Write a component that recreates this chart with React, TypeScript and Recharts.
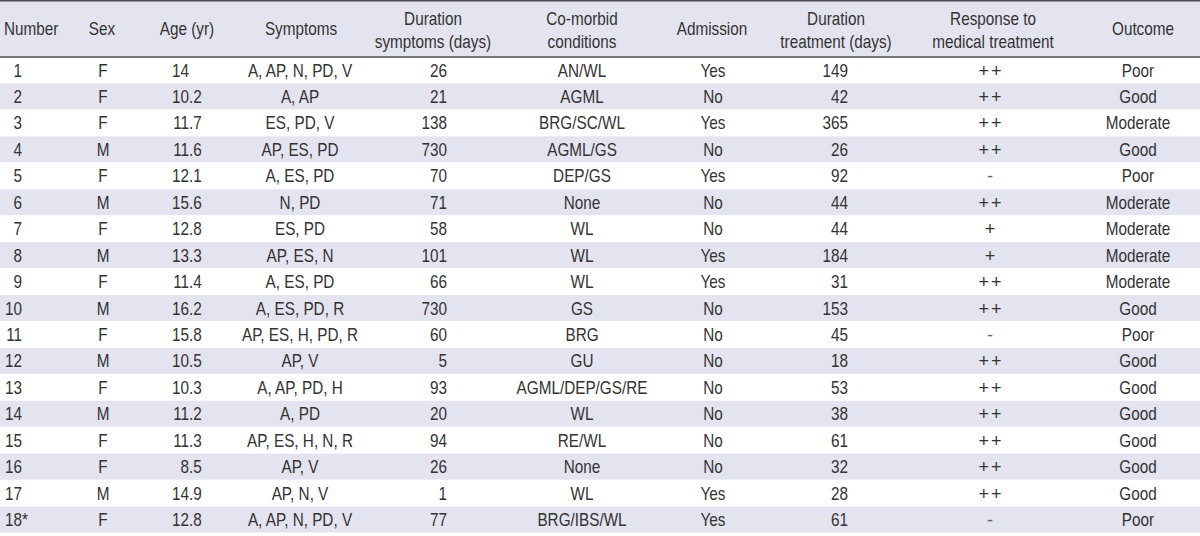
import React from 'react';
import { ComposedChart, Bar, XAxis, YAxis } from 'recharts';

const IDS = ['1', '2', '3', '4', '5', '6', '7', '8', '9', '10', '11', '12', '13', '14', '15', '16', '17', '18*'];
const SEX = ['F', 'F', 'F', 'M', 'F', 'M', 'F', 'M', 'F', 'M', 'F', 'M', 'F', 'M', 'F', 'F', 'M', 'F'];
const AGE = [14, 10.2, 11.7, 11.6, 12.1, 15.6, 12.8, 13.3, 11.4, 16.2, 15.8, 10.5, 10.3, 11.2, 11.3, 8.5, 14.9, 12.8];
const SYMPTOMS = [
  'A, AP, N, PD, V', 'A, AP', 'ES, PD, V', 'AP, ES, PD', 'A, ES, PD', 'N, PD', 'ES, PD', 'AP, ES, N', 'A, ES, PD',
  'A, ES, PD, R', 'AP, ES, H, PD, R', 'AP, V', 'A, AP, PD, H', 'A, PD', 'AP, ES, H, N, R', 'AP, V', 'AP, N, V', 'A, AP, N, PD, V',
];
const DURATION_SYMPTOMS = [26, 21, 138, 730, 70, 71, 58, 101, 66, 730, 60, 5, 93, 20, 94, 26, 1, 77];
const COMORBID = [
  'AN/WL', 'AGML', 'BRG/SC/WL', 'AGML/GS', 'DEP/GS', 'None', 'WL', 'WL', 'WL', 'GS', 'BRG', 'GU',
  'AGML/DEP/GS/RE', 'WL', 'RE/WL', 'None', 'WL', 'BRG/IBS/WL',
];
const ADMISSION = ['Yes', 'No', 'Yes', 'No', 'Yes', 'No', 'No', 'Yes', 'Yes', 'No', 'No', 'No', 'No', 'No', 'No', 'No', 'Yes', 'Yes'];
const DURATION_TREATMENT = [149, 42, 365, 26, 92, 44, 44, 184, 31, 153, 45, 18, 53, 38, 61, 32, 28, 61];
const RESPONSE = ['++', '++', '++', '++', '-', '++', '+', '+', '++', '++', '-', '++', '++', '++', '++', '++', '++', '-'];
const OUTCOME = [
  'Poor', 'Good', 'Moderate', 'Good', 'Poor', 'Moderate', 'Moderate', 'Moderate', 'Moderate', 'Good', 'Poor', 'Good',
  'Good', 'Good', 'Good', 'Good', 'Good', 'Poor',
];
const HEADERS: string[][] = [
  ['Number'], ['Sex'], ['Age (yr)'], ['Symptoms'], ['Duration', 'symptoms (days)'], ['Co-morbid', 'conditions'],
  ['Admission'], ['Duration', 'treatment (days)'], ['Response to', 'medical treatment'], ['Outcome'],
];

// ---------- layout / style ----------
const W = 1200;
const H = 536;
const HEADER_H = 57;
const FONT = "'Liberation Sans', Arial, sans-serif";
const FS = 18;
const SX = 0.85; // horizontal condensing of the glyphs
const TEXT = '#333333';
const SHADE = '#e4e3f0';
const RULE = '#4a4a4a';

type Anchor = 'start' | 'middle' | 'end';
type Col = { key: string; hx: number; ha: Anchor; bx: number; ba: Anchor | 'decimal' | 'idx' };
const COLS: Col[] = [
  { key: 'id', hx: 4, ha: 'start', bx: 22, ba: 'idx' },
  { key: 'sex', hx: 102, ha: 'middle', bx: 103, ba: 'middle' },
  { key: 'age', hx: 187, ha: 'middle', bx: 189, ba: 'decimal' },
  { key: 'symptoms', hx: 301, ha: 'middle', bx: 300, ba: 'middle' },
  { key: 'durSym', hx: 433, ha: 'middle', bx: 447, ba: 'end' },
  { key: 'comorbid', hx: 582, ha: 'middle', bx: 582, ba: 'middle' },
  { key: 'admission', hx: 712, ha: 'middle', bx: 713, ba: 'middle' },
  { key: 'durTx', hx: 836, ha: 'middle', bx: 848, ba: 'end' },
  { key: 'response', hx: 993, ha: 'middle', bx: 990, ba: 'middle' },
  { key: 'outcome', hx: 1143, ha: 'middle', bx: 1138, ba: 'middle' },
];

const ROWS = IDS.map((id, i) => ({
  id,
  sex: SEX[i],
  age: AGE[i],
  symptoms: SYMPTOMS[i],
  durSym: DURATION_SYMPTOMS[i],
  comorbid: COMORBID[i],
  admission: ADMISSION[i],
  durTx: DURATION_TREATMENT[i],
  response: RESPONSE[i],
  outcome: OUTCOME[i],
  band: 1,
}));

function Txt({ x, y, anchor, children, spacing, scale = SX, fill = TEXT }: { x: number; y: number; anchor: Anchor; children: any; spacing?: number; scale?: number; fill?: string }) {
  return (
    <text
      transform={`translate(${x},${y}) scale(${scale},1)`}
      x={0}
      y={0}
      textAnchor={anchor}
      fill={fill}
      fontSize={FS}
      fontFamily={FONT}
      letterSpacing={spacing}
    >
      {children}
    </text>
  );
}

function HeaderTick(props: any) {
  const { x, index } = props;
  const col = COLS[index];
  const lines = HEADERS[index] || [];
  const baselines = lines.length === 1 ? [35] : [25, 48];
  return (
    <g>
      {index === 0 && (
        <g>
          <rect x={0} y={0} width={W} height={HEADER_H - 1} fill={SHADE} />
          <line x1={0} x2={W} y1={0.75} y2={0.75} stroke={RULE} strokeWidth={1.5} />
        </g>
      )}
      {lines.map((l, i) => (
        <Txt key={i} x={x} y={baselines[i]} anchor={col.ha}>
          {l}
        </Txt>
      ))}
    </g>
  );
}

function RowShape(props: any) {
  const { x, y, width, height, index } = props;
  const row: any = props.payload && props.payload.id ? props.payload : ROWS[index];
  const base = y + height / 2 + 6.5;
  const sx = (v: number) => x + (v / W) * width;
  return (
    <g>
      <rect x={x} y={y} width={width} height={height} fill={index % 2 === 1 ? SHADE : '#ffffff'} />
      {COLS.map((c) => {
        const v = row[c.key];
        const px = sx(c.bx);
        if (c.ba === 'idx' || c.ba === 'decimal') {
          const s = String(v);
          const m = c.ba === 'idx' ? s.match(/^(\d+)(.*)$/) : s.match(/^(\d+)(\..*)?$/);
          const head = m ? m[1] : s;
          const tail = m && m[2] ? m[2] : '';
          return (
            <g key={c.key}>
              <Txt x={px} y={base} anchor="end">{head}</Txt>
              {tail && <Txt x={px} y={base} anchor="start">{tail}</Txt>}
            </g>
          );
        }
        const s = String(v);
        if (c.key === 'response') {
          const isPlus = s.includes('+');
          return (
            <Txt key={c.key} x={isPlus ? px + 1 : px} y={base} anchor="middle" scale={1} spacing={isPlus ? 2 : undefined} fill={isPlus ? TEXT : '#666'}>
              {s}
            </Txt>
          );
        }
        return (
          <Txt key={c.key} x={px} y={base} anchor={c.ba as Anchor}>
            {s}
          </Txt>
        );
      })}
    </g>
  );
}

export default function App() {
  return (
    <div style={{ position: 'absolute', left: 0, top: 0, width: W, height: H, background: '#ffffff' }}>
      <ComposedChart
        width={W}
        height={H}
        data={ROWS}
        layout="vertical"
        margin={{ top: 0, right: 0, bottom: 0, left: 0 }}
        barCategoryGap={0}
        barGap={0}
      >
        <XAxis
          xAxisId="top"
          orientation="top"
          type="number"
          domain={[0, W]}
          allowDataOverflow
          ticks={COLS.map((c) => c.hx)}
          interval={0}
          height={HEADER_H}
          tick={<HeaderTick />}
          tickLine={false}
          axisLine={{ stroke: RULE, strokeWidth: 1.5 }}
        />
        <XAxis
          xAxisId="bottom"
          orientation="bottom"
          type="number"
          domain={[0, 1]}
          height={3}
          tick={false}
          tickLine={false}
          axisLine={{ stroke: RULE, strokeWidth: 2 }}
        />
        <XAxis xAxisId="band" type="number" domain={[0, 1]} hide />
        <YAxis yAxisId="rows" type="category" dataKey="id" hide />
        <Bar
          dataKey="band"
          xAxisId="band"
          yAxisId="rows"
          shape={<RowShape />}
          isAnimationActive={false}
        />
      </ComposedChart>
    </div>
  );
}
